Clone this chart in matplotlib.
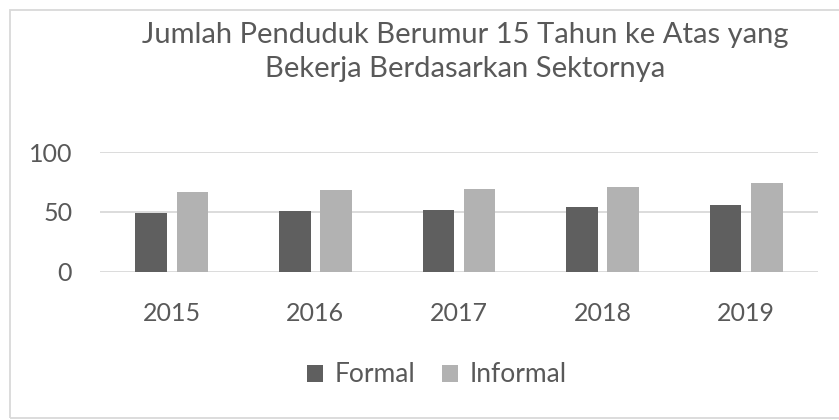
import numpy as np
import matplotlib.pyplot as plt
from matplotlib.patches import Rectangle

# data
years = ['2015', '2016', '2017', '2018', '2019']
formal = [48.8, 50.7, 51.8, 53.8, 55.5]
informal = [66.3, 68.3, 69.1, 70.5, 74.1]

title = 'Jumlah Penduduk Berumur 15 Tahun ke Atas yang\nBekerja Berdasarkan Sektornya'

plt.rcParams['font.family'] = ['Lato', 'DejaVu Sans']
txt_col = '#595959'
grid_col = '#d9d9d9'

fig = plt.figure(figsize=(8.39, 4.2), dpi=100)
ax = fig.add_axes([100/839, 1-271.7/420, 718/839, 119.7/420])

# chart border
fig.patches.append(Rectangle((10/839, 2/420), 1.0, 408/420, transform=fig.transFigure,
                             fill=False, edgecolor=grid_col, linewidth=1.3))

x = np.arange(len(years))
w = 0.22
off = 0.143
ax.bar(x - off, formal, w, color='#5f5f5f', label='Formal', zorder=3)
ax.bar(x + off, informal, w, color='#b2b2b2', label='Informal', zorder=3)

ax.set_xlim(-0.5, 4.5)
ax.set_ylim(0, 100)
ax.set_yticks([0, 50, 100])
ax.set_xticks(x)
ax.set_xticklabels(years)
ax.yaxis.grid(True, color=grid_col, linewidth=1.3, zorder=0)
for s in ax.spines.values():
    s.set_visible(False)
ax.tick_params(axis='both', length=0, labelsize=18, labelcolor=txt_col)
ax.tick_params(axis='y', pad=20)
ax.tick_params(axis='x', pad=22)

fig.text(465/839, 1-52/420, title, ha='center', va='center', fontsize=21,
         color=txt_col, linespacing=1.35)

fig.legend(loc='center', bbox_to_anchor=(437/839, 1-375/420), ncol=2, frameon=False,
           fontsize=19, labelcolor=txt_col, handlelength=0.6, handleheight=0.6,
           handletextpad=0.45, columnspacing=1.0)

fig.savefig('out.png', dpi=100)
